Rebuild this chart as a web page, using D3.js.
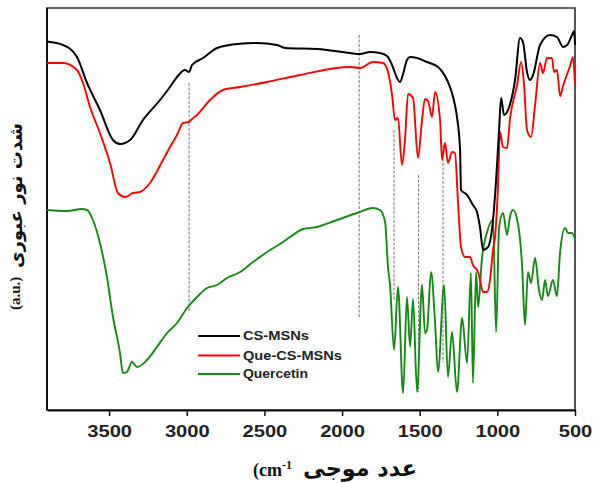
<!DOCTYPE html>
<html>
<head>
<meta charset="utf-8">
<script src="https://cdn.jsdelivr.net/npm/d3@7"></script>
<style>
body{margin:0;background:#fff}
svg{display:block}
</style>
</head>
<body>
<svg id="chart" width="593" height="483"></svg>
<script>
// FTIR spectra, wavenumber (cm-1) vs transmittance (a.u.)
const xTicks = [3500, 3000, 2500, 2000, 1500, 1000, 500];
const seriesNames = ["CS-MSNs", "Que-CS-MSNs", "Quercetin"];
const seriesColors = ["#000000", "#ff0000", "#138a13"];

const csWave = [3900,3797,3707,3642,3559,3475,3430,3365,3282,3172,3108,3063,3011,2986,2966,2895,2805,2676,2548,2419,2367,2161,1949,1884,1820,1756,1710,1678,1646,1627,1607,1582,1562,1517,1453,1382,1324,1285,1260,1240,1234,1195,1157,1131,1112,1092,1060,1028,1008,989,976,957,918,886,854,835,809,790,770,725,661,616,577,551,519,506,500];
const csT = [92.1,91.25,88.25,81.75,75,67.5,66.5,67.5,72.5,77.5,80.75,83.25,85,84.5,86.25,88,90.5,91.5,91.75,91.25,90.5,90.25,89.25,89,89.5,89.25,88.5,86.25,83,82,84,87.5,88.25,88,87,85.75,82.5,78.25,73.25,65,55,53.75,51.25,49.5,45.75,40,40.75,47.5,57.5,70,78,73.75,76.5,82.5,93,92,84.5,82.5,83.75,91.25,93.75,93.25,90.75,91.25,93.75,94.75,91.25];

const queWave = [3900,3797,3707,3668,3623,3559,3494,3443,3398,3346,3301,3237,3153,3108,3063,3024,2986,2966,2934,2850,2767,2657,2483,2271,1949,1884,1801,1736,1704,1678,1659,1640,1614,1595,1575,1543,1511,1485,1466,1446,1421,1401,1369,1356,1337,1318,1292,1273,1253,1234,1208,1176,1157,1124,1112,1092,1066,1047,1028,1015,996,983,963,938,918,873,847,828,809,783,757,725,706,680,648,635,616,596,577,532,513,500];
const queT = [86.75,86.75,85,81.75,75.75,69.25,61.75,54.25,53.25,54.25,54.5,56.75,62.5,65.75,68.75,71.75,72,72.75,73.75,77.5,80,80.75,82,83.75,85.75,85.5,87,86.75,84.5,78.75,72.5,73,61.25,67.5,79,78,63,72.5,77.75,77.25,73.25,79.5,72.5,62.5,66.75,61.75,64.5,64.25,51.75,40.75,38.25,38.25,36.25,34.5,32.5,29.5,29.5,32.5,40,43.25,55.75,69.5,65.75,65.5,73,81.25,87,81.25,70,68.25,76.25,86.75,84.25,88,88,84.5,85,78.5,81,86,88.25,81.25];

const querWave = [3900,3771,3675,3642,3604,3559,3514,3475,3430,3411,3385,3353,3320,3256,3192,3127,3063,2998,2934,2870,2805,2741,2657,2573,2483,2380,2335,2251,2161,2032,1904,1801,1756,1723,1704,1691,1665,1640,1607,1582,1562,1543,1517,1485,1466,1453,1427,1401,1382,1343,1318,1292,1260,1227,1195,1170,1157,1137,1124,1099,1066,1028,1008,989,963,938,918,899,867,841,822,803,783,757,732,712,693,674,642,616,596,564,545,519,500];
const querT = [50,49.75,50.25,50,47.5,41.75,33.25,23.25,14.25,9.25,9.5,12,10.75,12.5,15.75,19.25,21.75,25.5,28.25,30.5,31.25,33,34.5,37,39.5,42,43.25,45.25,45.75,47.5,49.25,50.5,50,47,35.75,31.25,15,30.75,4.25,28.25,15.75,27.75,4.5,31.25,19.25,20,34.5,21.75,9.5,31.25,8.25,19.5,4.5,23,11.75,34.25,6.75,34.5,25.75,38,44.5,47.5,19.5,45.5,49.25,43.75,48.5,50,46.5,36.25,21.25,34.5,31.75,38,30,27.5,32.5,28.5,32.5,28.5,39.5,45.5,44.25,44.25,42.75];

// dashed guide lines: wavenumber and top/bottom in a.u.
const guideWave = [2985, 1890, 1665, 1507, 1350];
const guideTop = [81.75, 93.75, 70, 58.75, 66.25];
const guideBottom = [24.6, 23.25, 27.5, 4.5, 12];

const svg = d3.select('#chart');
const x = d3.scaleLinear().domain([3900, 500]).range([47, 575]);
const y = d3.scaleLinear().domain([0, 100.5]).range([410, 8]);

// fit a text element to a target width by changing its font size
function fitWidth(sel, target) {
    const node = sel.node();
    const fs = +sel.attr('font-size');
    const len = node.getComputedTextLength();
    if (len > 0) sel.attr('font-size', (fs * target / len).toFixed(2));
}

// frame
svg.append('rect')
    .attr('x', 47).attr('y', 8)
    .attr('width', 528).attr('height', 402)
    .attr('fill', 'none')
    .attr('stroke', '#333').attr('stroke-width', 1.5);
svg.append('line').attr('x1', 47).attr('x2', 47).attr('y1', 8).attr('y2', 410)
    .attr('stroke', '#111').attr('stroke-width', 2);
svg.append('line').attr('x1', 575).attr('x2', 575).attr('y1', 8).attr('y2', 410)
    .attr('stroke', '#555').attr('stroke-width', 2);

// guides
svg.append('g').selectAll('line')
    .data(guideWave)
    .join('line')
    .attr('x1', d => x(d)).attr('x2', d => x(d))
    .attr('y1', (d, i) => y(guideTop[i]))
    .attr('y2', (d, i) => y(guideBottom[i]))
    .attr('stroke', '#777')
    .attr('stroke-width', 1)
    .attr('stroke-dasharray', '3,1.5');

const line = d3.line()
    .x(d => x(d[0]))
    .y(d => y(d[1]))
    .curve(d3.curveMonotoneX);

const series = [
    {name: seriesNames[2], color: seriesColors[2], w: 1.9, pts: d3.zip(querWave, querT)},
    {name: seriesNames[1], color: seriesColors[1], w: 1.9, pts: d3.zip(queWave, queT)},
    {name: seriesNames[0], color: seriesColors[0], w: 2, pts: d3.zip(csWave, csT)}
];

svg.append('g').selectAll('path')
    .data(series)
    .join('path')
    .attr('d', d => line(d.pts))
    .attr('fill', 'none')
    .attr('stroke', d => d.color)
    .attr('stroke-width', d => d.w)
    .attr('stroke-linejoin', 'round');

// x axis
const xAxis = d3.axisBottom(x)
    .tickValues(xTicks)
    .tickFormat(d3.format('d'))
    .tickSize(6)
    .tickSizeOuter(0)
    .tickPadding(10);

const gx = svg.append('g')
    .attr('transform', 'translate(0,410)')
    .call(xAxis);
gx.select('.domain')
    .attr('stroke', '#111').attr('stroke-width', 2);
gx.selectAll('.tick line').attr('stroke', '#111').attr('stroke-width', 1.5);
gx.selectAll('.tick text')
    .attr('font-family', 'Arial, "Liberation Sans", sans-serif')
    .attr('font-weight', 'bold')
    .attr('font-size', 16)
    .attr('fill', '#222')
    .attr('textLength', d => String(d).length * 11.2)
    .attr('lengthAdjust', 'spacingAndGlyphs');

// x title
const xt = svg.append('text')
    .attr('x', 253).attr('y', 476)
    .attr('font-family', '"Liberation Serif", "Times New Roman", serif')
    .attr('font-weight', 'bold')
    .attr('font-size', 18)
    .attr('fill', '#111');
xt.append('tspan').text('(cm');
xt.append('tspan').attr('dy', -7).attr('font-size', 12).text('-1');
const xa = svg.append('text')
    .attr('x', 417).attr('y', 476)
    .attr('text-anchor', 'end')
    .attr('font-family', '"DejaVu Sans", sans-serif')
    .attr('font-weight', 'bold')
    .attr('font-size', 16)
    .attr('fill', '#111')
    .text('عدد موجی');
fitWidth(xa, 114);

// y title (rotated)
const yt = svg.append('g').attr('transform', 'translate(15,0) rotate(-90)');
yt.append('text')
    .attr('x', -310).attr('y', 0)
    .attr('dominant-baseline', 'central')
    .attr('font-family', '"Liberation Serif", "Times New Roman", serif')
    .attr('font-weight', 'bold')
    .attr('font-size', 15)
    .attr('fill', '#111')
    .text('(a.u.)');
const ya = yt.append('text')
    .attr('x', -123).attr('y', 0)
    .attr('text-anchor', 'end')
    .attr('dominant-baseline', 'central')
    .attr('font-family', '"DejaVu Sans", sans-serif')
    .attr('font-weight', 'bold')
    .attr('font-size', 15)
    .attr('fill', '#111')
    .text('شدت نور عبوری');
fitWidth(ya, 145);

// legend
const legendY = [336, 355.5, 374];
const legendW = [66, 99, 65];
const lg = svg.append('g').selectAll('g')
    .data(seriesNames)
    .join('g')
    .attr('transform', (d, i) => `translate(198,${legendY[i]})`);
lg.append('line')
    .attr('x1', 0).attr('x2', 42)
    .attr('stroke', (d, i) => seriesColors[i])
    .attr('stroke-width', 2);
lg.append('text')
    .attr('x', 45)
    .attr('dominant-baseline', 'central')
    .attr('font-family', 'Arial, "Liberation Sans", sans-serif')
    .attr('font-weight', 'bold')
    .attr('font-size', 12.5)
    .attr('fill', '#222')
    .attr('textLength', (d, i) => legendW[i])
    .attr('lengthAdjust', 'spacingAndGlyphs')
    .text(d => d);
</script>
</body>
</html>
